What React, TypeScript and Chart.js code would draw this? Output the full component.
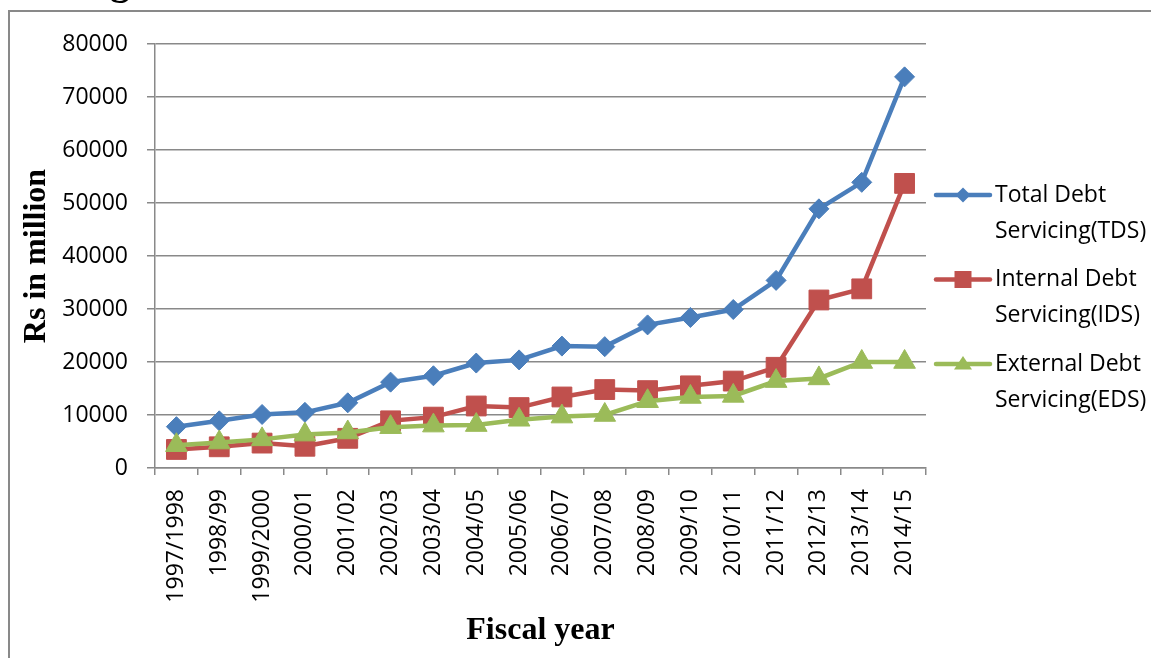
import { useEffect, useRef } from "react";
import { Chart, registerables } from "chart.js";

Chart.register(...registerables);

const fiscalYears = [
  "1997/1998", "1998/99", "1999/2000", "2000/01", "2001/02", "2002/03",
  "2003/04", "2004/05", "2005/06", "2006/07", "2007/08", "2008/09",
  "2009/10", "2010/11", "2011/12", "2012/13", "2013/14", "2014/15",
];

// Rs in million
const totalDebtServicing = [
  7800, 8900, 10100, 10500, 12300, 16200, 17400, 19800, 20400,
  23000, 22900, 27000, 28400, 29900, 35400, 48900, 53900, 73800,
];
const internalDebtServicing = [
  3500, 4000, 4700, 4100, 5600, 8900, 9600, 11700, 11400,
  13400, 14800, 14600, 15500, 16400, 19000, 31700, 33800, 53700,
];
const externalDebtServicing = [
  4300, 4800, 5400, 6300, 6700, 7700, 8000, 8100, 9100,
  9700, 10000, 12600, 13400, 13600, 16400, 16900, 20000, 20000,
];

const yTicks = [0, 10000, 20000, 30000, 40000, 50000, 60000, 70000, 80000];

const seriesNames = [
  ["Total Debt", "Servicing(TDS)"],
  ["Internal Debt", "Servicing(IDS)"],
  ["External Debt", "Servicing(EDS)"],
];

const BLUE = "#4A7EBB";
const RED = "#C0504D";
const GREEN = "#9BBB59";
const GRID = "#898989";
const SANS = "'Open Sans', 'Liberation Sans', sans-serif";
const SERIF = "'Liberation Serif', 'DejaVu Serif', serif";

type Marker = "diamond" | "square" | "triangle";

function drawMarker(ctx: CanvasRenderingContext2D, kind: Marker, x: number, y: number, r: number) {
  ctx.beginPath();
  if (kind === "diamond") {
    ctx.moveTo(x, y - r);
    ctx.lineTo(x + r, y);
    ctx.lineTo(x, y + r);
    ctx.lineTo(x - r, y);
  } else if (kind === "square") {
    ctx.rect(x - r, y - r, 2 * r, 2 * r);
  } else {
    const h = r * 1.5;
    ctx.moveTo(x, y - h * 0.6);
    ctx.lineTo(x + r, y + h * 0.4);
    ctx.lineTo(x - r, y + h * 0.4);
  }
  ctx.closePath();
  ctx.fill();
}

// White page, the outer frame lines and the clipped heading glyph
const framePlugin = {
  id: "frame",
  beforeDraw(chart: Chart) {
    const ctx = chart.ctx;
    ctx.save();
    ctx.fillStyle = "#ffffff";
    ctx.fillRect(0, 0, chart.width, chart.height);
    ctx.strokeStyle = GRID;
    ctx.lineWidth = 2;
    ctx.beginPath();
    ctx.moveTo(9, chart.height);
    ctx.lineTo(9, 11);
    ctx.lineTo(chart.width, 11);
    ctx.stroke();
    ctx.fillStyle = "#000";
    ctx.font = `bold 40px ${SERIF}`;
    ctx.textBaseline = "alphabetic";
    ctx.fillText("g", 110, -6);
    ctx.restore();
  },
};

// Two-line legend on the right side of the plot
const legendPlugin = {
  id: "sideLegend",
  afterDraw(chart: Chart) {
    const ctx = chart.ctx;
    const markers: { kind: Marker; r: number; color: string }[] = [
      { kind: "diamond", r: 7.5, color: BLUE },
      { kind: "square", r: 8.5, color: RED },
      { kind: "triangle", r: 9, color: GREEN },
    ];
    ctx.save();
    const x0 = 936;
    const x1 = 990;
    const firstY = 195;
    const step = 84.5;
    const lineGap = 36;
    seriesNames.forEach((lines, i) => {
      const y = firstY + i * step;
      const m = markers[i];
      ctx.strokeStyle = m.color;
      ctx.lineWidth = 4.5;
      ctx.lineCap = "round";
      ctx.beginPath();
      ctx.moveTo(x0, y);
      ctx.lineTo(x1, y);
      ctx.stroke();
      ctx.fillStyle = m.color;
      drawMarker(ctx, m.kind, (x0 + x1) / 2, y, m.r);
      ctx.fillStyle = "#000";
      ctx.font = `23px ${SANS}`;
      ctx.textBaseline = "middle";
      ctx.textAlign = "left";
      lines.forEach((t, j) => ctx.fillText(t, 995, y + j * lineGap));
    });
    ctx.restore();
  },
};

export default function App() {
  const canvasRef = useRef<HTMLCanvasElement | null>(null);

  useEffect(() => {
    const canvas = canvasRef.current;
    if (!canvas) return;
    const chart = new Chart(canvas, {
      type: "line",
      data: {
        labels: fiscalYears,
        datasets: [
          {
            label: seriesNames[0].join(" "),
            data: totalDebtServicing,
            borderColor: BLUE,
            backgroundColor: BLUE,
            borderWidth: 4.5,
            pointStyle: "rectRot",
            pointRadius: 10,
            pointBorderWidth: 1,
            pointBorderColor: BLUE,
            pointBackgroundColor: BLUE,
            tension: 0,
            order: 2,
          },
          {
            label: seriesNames[1].join(" "),
            data: internalDebtServicing,
            borderColor: RED,
            backgroundColor: RED,
            borderWidth: 4.5,
            pointStyle: "rect",
            pointRadius: 14,
            pointBorderWidth: 1,
            pointBorderColor: RED,
            pointBackgroundColor: RED,
            tension: 0,
            order: 1,
          },
          {
            label: seriesNames[2].join(" "),
            data: externalDebtServicing,
            borderColor: GREEN,
            backgroundColor: GREEN,
            borderWidth: 4.5,
            pointStyle: "triangle",
            pointRadius: 12.5,
            pointBorderWidth: 1,
            pointBorderColor: GREEN,
            pointBackgroundColor: GREEN,
            tension: 0,
            order: 0,
          },
        ],
      },
      options: {
        responsive: false,
        maintainAspectRatio: false,
        animation: false,
        devicePixelRatio: 1,
        layout: { padding: { left: 0, top: 44, right: 225, bottom: 0 } },
        plugins: {
          legend: { display: false },
          tooltip: { enabled: false },
        },
        scales: {
          x: {
            type: "category",
            offset: true,
            border: { color: GRID, width: 1.5 },
            grid: {
              offset: true,
              drawOnChartArea: false,
              drawTicks: true,
              tickLength: 7,
              color: GRID,
              lineWidth: 1.5,
            },
            ticks: {
              autoSkip: false,
              minRotation: 90,
              maxRotation: 90,
              padding: 14,
              color: "#000",
              font: { family: SANS, size: 23 },
            },
            title: {
              display: true,
              text: "Fiscal year",
              color: "#000",
              font: { family: SERIF, size: 32, weight: "bold", lineHeight: 1.2 },
              padding: { top: 0, bottom: 8 },
            },
            afterFit: (s: any) => {
              s.height = 190;
            },
          },
          y: {
            min: 0,
            max: 80000,
            afterBuildTicks: (s: any) => {
              s.ticks = yTicks.map((v) => ({ value: v }));
            },
            border: { color: GRID, width: 1.5 },
            grid: {
              color: GRID,
              lineWidth: 1.5,
              tickLength: 8,
            },
            ticks: {
              padding: 19,
              color: "#000",
              font: { family: SANS, size: 23 },
              callback: (v: any) => String(v),
            },
            title: {
              display: true,
              text: "Rs in million",
              color: "#000",
              font: { family: SERIF, size: 32, weight: "bold", lineHeight: 1.2 },
              padding: { top: 18, bottom: 0 },
            },
            afterFit: (s: any) => {
              s.width = 155;
            },
          },
        },
      },
      plugins: [framePlugin, legendPlugin],
    });
    return () => chart.destroy();
  }, []);

  return (
    <div style={{ position: "absolute", left: 0, top: 0, width: 1151, height: 658 }}>
      <canvas ref={canvasRef} width={1151} height={658} style={{ width: 1151, height: 658, display: "block" }} />
    </div>
  );
}
